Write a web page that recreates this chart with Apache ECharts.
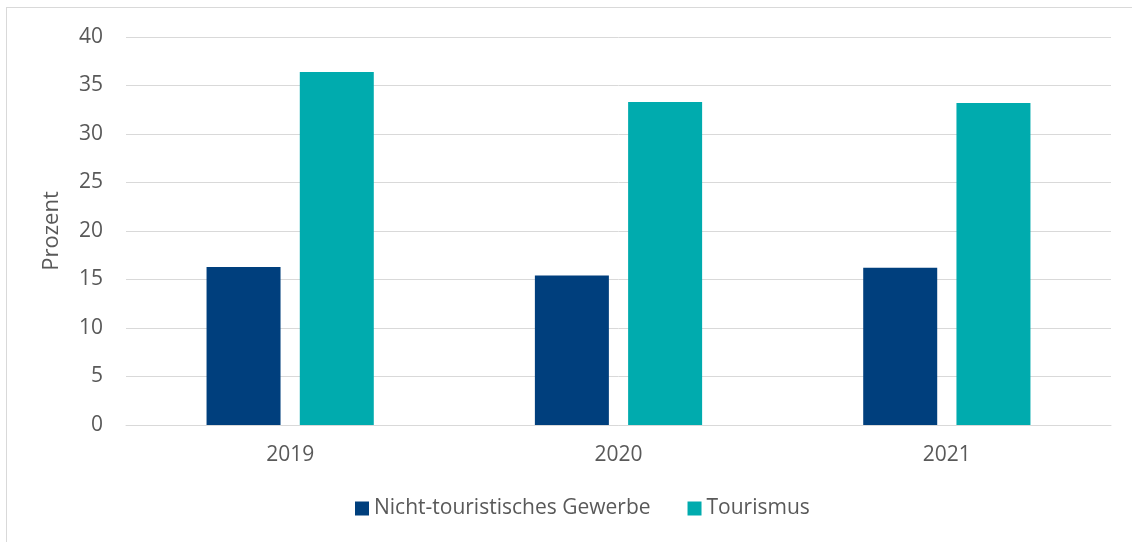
<!DOCTYPE html>
<html>
<head>
<meta charset="utf-8">
<script src="https://cdn.jsdelivr.net/npm/echarts@6/dist/echarts.min.js"></script>
<style>
  html, body { margin: 0; padding: 0; background: #fff; overflow: hidden; }
  #frame {
    position: absolute; left: 6px; top: 7px; width: 1200px; height: 600px;
    border: 1px solid #d9d9d9;
  }
  #chart { position: absolute; left: 0; top: 0; width: 1132px; height: 542px; }
</style>
</head>
<body>
<div id="frame"></div>
<div id="chart"></div>
<script>
  var years = ['2019', '2020', '2021'];
  var gewerbe = [16.3, 15.4, 16.2];
  var tourismus = [36.4, 33.3, 33.2];
  var yTicks = [0, 40, 5];

  var font = '"Open Sans", Lato, sans-serif';
  var textColor = '#595959';

  var myChart = echarts.init(document.getElementById('chart'));
  var option = {
    animation: false,
    color: ['#003f7d', '#00abae'],
    textStyle: { fontFamily: font },
    grid: { left: 126, right: 21, top: 37, bottom: 117 },
    legend: {
      bottom: 18,
      left: 350,
      itemWidth: 14,
      itemHeight: 14,
      itemGap: 37,
      icon: 'rect',
      textStyle: { fontSize: 21, color: textColor, fontFamily: font },
      data: ['Nicht-touristisches Gewerbe', 'Tourismus']
    },
    xAxis: {
      type: 'category',
      data: years,
      axisLine: { lineStyle: { color: '#d9d9d9', width: 1 } },
      axisTick: { show: false },
      axisLabel: { fontSize: 21, color: textColor, margin: 20, fontFamily: font }
    },
    yAxis: {
      type: 'value',
      min: yTicks[0],
      max: yTicks[1],
      interval: yTicks[2],
      name: 'Prozent',
      nameLocation: 'middle',
      nameGap: 63,
      nameTextStyle: { fontSize: 22, color: textColor, fontFamily: font },
      axisLine: { show: false },
      axisTick: { show: false },
      axisLabel: { fontSize: 21, color: textColor, margin: 23, fontFamily: font },
      splitLine: { lineStyle: { color: '#d9d9d9', width: 1 } }
    },
    series: [
      {
        name: 'Nicht-touristisches Gewerbe',
        type: 'bar',
        barWidth: 74,
        barGap: '26%',
        data: gewerbe
      },
      {
        name: 'Tourismus',
        type: 'bar',
        barWidth: 74,
        barGap: '26%',
        data: tourismus
      }
    ]
  };
  myChart.setOption(option);
</script>
</body>
</html>
